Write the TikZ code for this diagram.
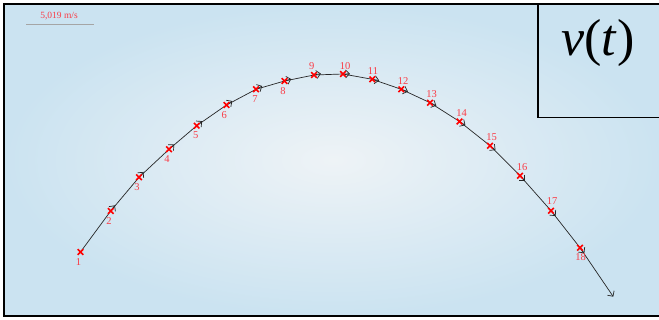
\documentclass[tikz,border=0pt]{standalone}
\usepackage{fontspec}
\setmainfont{Liberation Serif}
\usetikzlibrary{arrows.meta, positioning, calc, shapes.misc}

\definecolor{bginner}{RGB}{238,243,246}
\definecolor{bgouter}{RGB}{203,227,241}
\definecolor{numred}{RGB}{250,60,70}
\definecolor{scalegray}{RGB}{165,165,165}

\begin{document}
\begin{tikzpicture}[
      x=1pt, y=-1pt,
      frame/.style={draw=black, line width=1.6pt},
      vec/.style={-{Straight Barb[length=4pt, width=8pt]}, line width=0.7pt, black!85, shorten >=-7pt},
      poscross/.style={cross out, draw=red, line width=1.6pt, minimum size=4pt, inner sep=0pt},
      num/.style={text=numred, font=\fontsize{10.5}{11}\selectfont, inner sep=0pt},
      scaletext/.style={text=numred, font=\fontsize{9.5}{10}\selectfont, inner sep=0pt}
    ]
    \useasboundingbox (0,0) rectangle (659,320);
    \shade[inner color=bginner, outer color=bgouter] (4,4) rectangle (662,316);

    % scale bar
    \node[scaletext] (scale) at (59,16.5) {5,019 m/s};
    \coordinate (barL) at (26,24.5);
    \coordinate (barR) at (94,24.5);
    \draw[scalegray, line width=1.3pt] (barL) -- (barR);

    % positions
    \foreach \i/\x/\y in {1/80.5/252, 2/110.7/211, 3/139/177.3, 4/169/149.3, 5/196.7/125.7,
        6/226.5/105, 7/256/89.3, 8/284.5/81, 9/314/75, 10/343/74, 11/372.3/79.3,
        12/401.3/89.3, 13/430/102.7, 14/459.5/121.5, 15/490/145.7, 16/520/175.7,
        17/551/210.7, 18/580/247.7}
      \coordinate (p\i) at (\x,\y);
    \coordinate (tip) at (613.3,296.7);

    % velocity vectors
    \foreach \a/\b in {1/2, 2/3, 3/4, 4/5, 5/6, 6/7, 7/8, 8/9, 9/10, 10/11, 11/12,
        12/13, 13/14, 14/15, 15/16, 16/17, 17/18}
      \draw[vec] (p\a) -- (p\b);
    \draw[vec, shorten >=0pt] (p18) -- (tip);

    % crosses and numbers
    \foreach \i/\dx/\dy in {1/-2/10.5, 2/-1.7/10, 3/-2/10, 4/-2/10, 5/-1/9.5, 6/-2.3/10,
        7/-1/10, 8/-1.5/10, 9/-2.3/-9, 10/2/-7.5, 11/0.7/-8.6, 12/1.7/-8.6, 13/1.7/-8.7,
        14/2.2/-8.8, 15/1.7/-9, 16/2/-8.7, 17/1/-9.5, 18/0.7/9.6}
    {
      \node[poscross] (m\i) at (p\i) {};
      \node[num] (n\i) at ($(p\i)+(\dx,\dy)$) {\i};
    }

    % frame and title box
    \draw[frame] (664,4) -- (4,4) -- (4,316) -- (664,316);
    \draw[frame] (538,4) -- (538,117.5) -- (664,117.5);
    \node[font=\fontsize{52}{56}\selectfont, inner sep=0pt] (vt) at (598,43) {\textit{v}(\textit{t})};
  \end{tikzpicture}
\end{document}
